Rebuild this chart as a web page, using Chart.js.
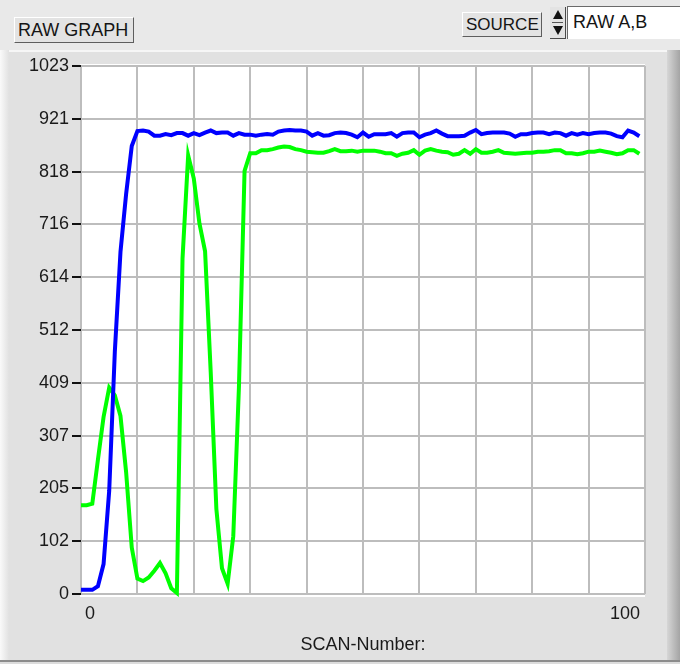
<!DOCTYPE html>
<html>
<head>
<meta charset="utf-8">
<title>RAW GRAPH</title>
<script src="https://cdn.jsdelivr.net/npm/chart.js@4/dist/chart.umd.min.js"></script>
<style>
  html, body { margin: 0; padding: 0; width: 680px; height: 664px; overflow: hidden; background: #e9e9e9;
    font-family: "Liberation Sans", Arial, sans-serif; }
  #panel { position: absolute; left: 0; top: 50px; width: 680px; height: 614px; background: #e1e1e1; }
  #panel .hl-top { position: absolute; left: 0; top: 0; width: 668px; height: 2px; background: #f6f6f6; }
  #panel .hl-left { position: absolute; left: 0; top: 0; width: 9px; height: 610px;
    background: linear-gradient(to right, #fafafa, #e1e1e1); }
  #panel .sh-right { position: absolute; left: 667px; top: 0; width: 13px; height: 614px;
    background: linear-gradient(to right, #d6d6d6, #a4a4a4); }
  #panel .sh-bottom { position: absolute; left: 0; top: 610px; width: 680px; height: 2px; background: #8c8c8c; }
  #panel .below { position: absolute; left: 0; top: 612px; width: 680px; height: 2px; background: #dcdcdc; }
  canvas#graph { position: absolute; left: 0; top: 0; }
  .btn { position: absolute; box-sizing: border-box; background: #e3e3e3; color: #151515;
    border: 1px solid; border-color: #ffffff #5e5e5e #5e5e5e #ffffff; font-size: 18px; white-space: nowrap; }
  #rawGraph { left: 14px; top: 17px; width: 120px; height: 26px; line-height: 24px; padding-left: 3px; }
  #source { left: 462px; top: 12px; width: 80px; height: 25px; line-height: 23px; padding-left: 3px; font-size: 17px; }
  #spin { position: absolute; left: 550px; top: 7px; width: 16px; height: 32px; box-sizing: border-box;
    background: #e3e3e3; border-right: 1px solid #4a4a4a; border-bottom: 1px solid #4a4a4a; }
  #spin .up { position: absolute; left: 3px; top: 3px; width: 0; height: 0;
    border-left: 5px solid transparent; border-right: 5px solid transparent; border-bottom: 9px solid #111; }
  #spin .down { position: absolute; left: 3px; top: 19px; width: 0; height: 0;
    border-left: 5px solid transparent; border-right: 5px solid transparent; border-top: 9px solid #111; }
  #spin .mid { position: absolute; left: 2px; top: 15px; width: 11px; height: 1px; background: #555; }
  #sourceBox { position: absolute; left: 567px; top: 6px; width: 113px; height: 33px; box-sizing: border-box;
    background: #ffffff; border-top: 1px solid #6a6a6a; border-left: 1px solid #6a6a6a;
    font-size: 18px; line-height: 31px; padding-left: 5px; color: #151515; white-space: nowrap; }
</style>
</head>
<body>
<div id="panel">
  <div class="hl-top"></div>
  <div class="hl-left"></div>
  <div class="sh-right"></div>
  <div class="sh-bottom"></div>
  <div class="below"></div>
</div>
<canvas id="graph" width="680" height="664"></canvas>
<div class="btn" id="rawGraph">RAW GRAPH</div>
<div class="btn" id="source">SOURCE</div>
<div id="spin"><div class="up"></div><div class="mid"></div><div class="down"></div></div>
<div id="sourceBox">RAW A,B</div>

<script>
// Scan index (x) for each raw sample
const scanNumber = [
  0, 1, 2, 3, 4, 5, 6, 7, 8, 9,
  10, 11, 12, 13, 14, 15, 16, 17, 18, 19,
  20, 21, 22, 23, 24, 25, 26, 27, 28, 29,
  30, 31, 32, 33, 34, 35, 36, 37, 38, 39,
  40, 41, 42, 43, 44, 45, 46, 47, 48, 49,
  50, 51, 52, 53, 54, 55, 56, 57, 58, 59,
  60, 61, 62, 63, 64, 65, 66, 67, 68, 69,
  70, 71, 72, 73, 74, 75, 76, 77, 78, 79,
  80, 81, 82, 83, 84, 85, 86, 87, 88, 89,
  90, 91, 92, 93, 94, 95, 96, 97, 98, 99
];

// Raw channel A (blue)
const rawA = [
  8, 8, 8, 15, 58, 200, 470, 663, 775, 868,
  897, 898, 896, 888, 888, 891, 889, 893, 893, 888,
  893, 889, 894, 898, 893, 894, 894, 888, 893, 890,
  890, 888, 890, 891, 890, 896, 898, 899, 898, 898,
  896, 888, 893, 888, 889, 893, 894, 893, 890, 885,
  894, 886, 891, 891, 891, 893, 886, 893, 894, 894,
  885, 890, 893, 898, 892, 887, 887, 887, 888, 894,
  899, 891, 893, 894, 894, 894, 892, 886, 891, 891,
  893, 894, 894, 891, 894, 893, 888, 893, 890, 893,
  891, 893, 894, 894, 892, 887, 885, 898, 894, 887
];

// Raw channel B (green)
const rawB = [
  172, 172, 175, 260, 343, 400, 385, 345, 236, 90,
  30, 25, 32, 45, 60, 40, 11, 2, 650, 850,
  805, 718, 664, 430, 165, 50, 20, 112, 400, 820,
  854, 854, 860, 860, 862, 865, 867, 866, 862, 860,
  857, 856, 855, 855, 858, 862, 858, 858, 859, 857,
  859, 859, 859, 857, 854, 854, 849, 853, 855, 860,
  851, 859, 862, 859, 857, 856, 851, 853, 860, 853,
  862, 855, 855, 857, 860, 855, 854, 853, 854, 855,
  855, 857, 857, 858, 860, 860, 854, 854, 852, 854,
  857, 857, 859, 857, 855, 852, 854, 860, 860, 853
];

// Y axis divisions (10-bit ADC range split in ten) and their printed labels
const yTickValues = [0, 102.3, 204.6, 306.9, 409.2, 511.5, 613.8, 716.1, 818.4, 920.7, 1023];
const yTickLabels = ['0', '102', '205', '307', '409', '512', '614', '716', '818', '921', '1023'];

// X axis: grid every 10 scans, only the ends are labelled
const xGridValues = [0, 10, 20, 30, 40, 50, 60, 70, 80, 90, 100];
const xLabelValues = [0, 100];
const xLabelTexts = ['0', '100'];

const FONT = '"Liberation Sans", Arial, sans-serif';
Chart.defaults.font.family = FONT;
Chart.defaults.font.size = 18;

const toPoints = (xs, ys) => ys.map((y, i) => ({ x: xs[i], y }));

// White plot background, slightly larger than the value range
const plotBackground = {
  id: 'plotBackground',
  beforeDraw(chart) {
    const { ctx, chartArea: a } = chart;
    ctx.save();
    ctx.fillStyle = '#ffffff';
    ctx.fillRect(a.left - 1, a.top - 2, a.right - a.left + 1, a.bottom - a.top + 5);
    ctx.restore();
  }
};

// End labels of the scan axis, kept inside the plot width
const scanEndLabels = {
  id: 'scanEndLabels',
  afterDraw(chart) {
    const { ctx } = chart;
    const sx = chart.scales.x;
    ctx.save();
    ctx.font = '18px ' + FONT;
    ctx.fillStyle = '#1a1a1a';
    ctx.textBaseline = 'middle';
    xLabelValues.forEach((v, i) => {
      const px = sx.getPixelForValue(v);
      const first = i === 0;
      ctx.textAlign = first ? 'left' : 'right';
      ctx.fillText(xLabelTexts[i], first ? px + 4 : px - 5, sx.top + 20);
    });
    ctx.restore();
  }
};

new Chart(document.getElementById('graph'), {
  type: 'line',
  data: {
    datasets: [
      {
        label: 'RAW A',
        data: toPoints(scanNumber, rawA),
        borderColor: '#0000ff',
        borderWidth: 4,
        pointRadius: 0,
        tension: 0,
        clip: { left: 0, top: 2, right: 0, bottom: 3 }
      },
      {
        label: 'RAW B',
        data: toPoints(scanNumber, rawB),
        borderColor: '#00ff00',
        borderWidth: 4,
        pointRadius: 0,
        tension: 0,
        clip: { left: 0, top: 2, right: 0, bottom: 3 }
      }
    ]
  },
  options: {
    responsive: false,
    animation: false,
    devicePixelRatio: 1,
    layout: { padding: { left: 8, top: 66, right: 35, bottom: 0 } },
    plugins: { legend: { display: false }, tooltip: { enabled: false } },
    scales: {
      x: {
        type: 'linear',
        min: 0,
        max: 100,
        afterBuildTicks: s => { s.ticks = xGridValues.map(v => ({ value: v })); },
        afterFit: s => { s.height = 70; },
        grid: { color: '#bdbdbd', lineWidth: 2, drawTicks: false },
        border: { display: false },
        ticks: { display: false },
        title: {
          display: true,
          text: 'SCAN-Number:',
          color: '#1a1a1a',
          font: { size: 18 },
          padding: { top: 4, bottom: 8 }
        }
      },
      y: {
        type: 'linear',
        min: 0,
        max: 1023,
        afterBuildTicks: s => { s.ticks = yTickValues.map(v => ({ value: v })); },
        afterFit: s => { s.width = 73; },
        grid: { color: '#bdbdbd', lineWidth: 2, tickColor: '#111111', tickLength: 9, tickWidth: 2 },
        border: { display: false },
        ticks: {
          color: '#1a1a1a',
          padding: 3,
          font: { size: 18 },
          callback: (v, i) => yTickLabels[i]
        }
      }
    }
  },
  plugins: [plotBackground, scanEndLabels]
});
</script>
</body>
</html>
